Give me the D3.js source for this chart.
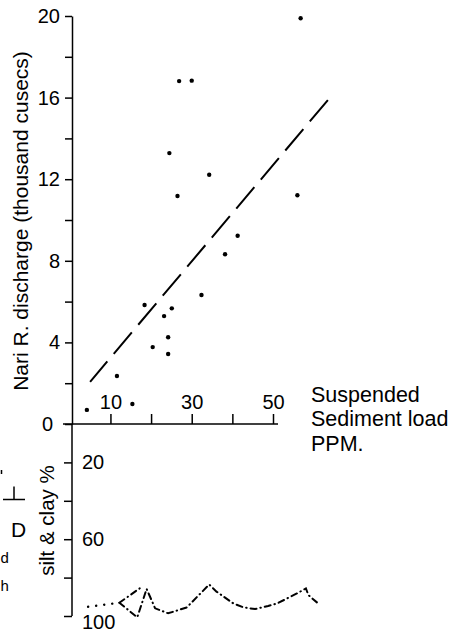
<!DOCTYPE html>
<html>
<head>
<meta charset="utf-8">
<script src="https://cdn.jsdelivr.net/npm/d3@7"></script>
<style>
body { margin: 0; background: #fff; }
svg { display: block; font-family: "Liberation Sans", Arial, sans-serif; }
</style>
</head>
<body>
<script>
// scatter: suspended sediment load (PPM) vs Nari R. discharge (thousand cusecs)
var sediment  = [4.2, 11.6, 15.4, 18.4, 20.4, 23.2, 24.2, 24.2, 25.1, 24.5, 26.5, 26.9, 30.0, 32.4, 34.3, 38.2, 41.3, 56.0, 56.8];
var discharge = [0.69, 2.35, 0.98, 5.83, 3.77, 5.29, 4.25, 3.43, 5.67, 13.28, 11.18, 16.81, 16.83, 6.32, 12.22, 8.32, 9.23, 11.21, 19.89];

// fitted line, drawn from the upper end
var trendSediment  = [63.5, 5.0];
var trendDischarge = [15.88, 2.07];

// silt & clay % curve under the axis
var siltDotSed = [4.5, 12.2];
var siltDotPct = [95.2, 93.1];
var siltSed = [12.2, 16.6, 18.9, 21.0, 24.2, 28.8, 34.3, 36.1, 40.2, 42.7, 45.6, 48.8, 51.1, 56.2, 58.1, 58.7, 60.8];
var siltPct = [93.1, 100.7, 85.9, 96.0, 98.6, 95.5, 83.6, 87.3, 93.4, 95.5, 96.4, 94.8, 93.4, 87.9, 85.6, 89.1, 92.9];
var siltBranchSed = [12.2, 18.0];
var siltBranchPct = [93.1, 84.4];

var dischargeTicks  = [0, 2, 4, 6, 8, 10, 12, 14, 16, 18, 20];
var dischargeLabels = [0, 4, 8, 12, 16, 20];
var sedimentTicks  = [10, 20, 30, 40, 50];
var sedimentLabels = [10, 30, 50];
var siltTicks  = [20, 40, 60, 80, 100];
var siltLabels = [20, 60, 100];

var width = 460, height = 632;
var axisX = 72;

var svg = d3.select("body")
    .append("svg")
    .attr("width", width)
    .attr("height", height);

svg.append("rect")
    .attr("width", width)
    .attr("height", height)
    .attr("fill", "#fff");

var x = d3.scaleLinear().domain([0, 50]).range([69.8, 273]);
var y = d3.scaleLinear().domain([0, 20]).range([424, 16]);
var ySilt = d3.scaleLinear().domain([0, 100]).range([424, 616]);

// upper y axis
var yAxis = svg.append("g")
    .attr("transform", "translate(" + axisX + ",0)")
    .call(d3.axisLeft(y)
        .tickValues(dischargeTicks)
        .tickSize(7)
        .tickSizeOuter(0)
        .tickPadding(5)
        .tickFormat(function (d) { return dischargeLabels.indexOf(d) >= 0 ? d : ""; }));
yAxis.selectAll("text")
    .filter(function (d) { return d === 0; })
    .attr("x", -19);

// lower y axis (silt & clay)
var siltAxis = svg.append("g")
    .attr("transform", "translate(" + axisX + ",0)")
    .call(d3.axisLeft(ySilt)
        .tickValues(siltTicks)
        .tickSize(8)
        .tickSizeOuter(0)
        .tickFormat(""));
siltAxis.select(".domain")
    .attr("d", "M0," + ySilt(0) + "V" + ySilt(100));

svg.append("g")
    .selectAll("text")
    .data(siltLabels)
    .enter().append("text")
    .attr("x", axisX + 10)
    .attr("y", function (d) { return ySilt(d) + (d === 100 ? 6 : 0); })
    .attr("dy", "0.35em")
    .attr("font-size", 20)
    .text(function (d) { return d; });

// x axis, ticks pointing up
var xAxis = svg.append("g")
    .attr("transform", "translate(0," + y(0) + ")")
    .call(d3.axisTop(x)
        .tickValues(sedimentTicks)
        .tickSize(10)
        .tickSizeOuter(0)
        .tickPadding(5)
        .tickFormat(function (d) { return sedimentLabels.indexOf(d) >= 0 ? d : ""; }));
xAxis.select(".domain")
    .attr("d", "M" + (axisX - 9) + ",0H" + (x(50) + 5));

svg.selectAll(".tick text")
    .attr("font-size", 20)
    .attr("font-family", "Liberation Sans, Arial, sans-serif")
    .attr("fill", "#000");
svg.selectAll(".domain, .tick line")
    .attr("stroke", "#000")
    .attr("stroke-width", 1.5);

// trend line
var line = d3.line()
    .x(function (d) { return x(d[0]); })
    .y(function (d) { return y(d[1]); });

svg.append("path")
    .datum(d3.zip(trendSediment, trendDischarge))
    .attr("d", line)
    .attr("fill", "none")
    .attr("stroke", "#000")
    .attr("stroke-width", 2)
    .attr("stroke-dasharray", "28,10");

// points
svg.append("g")
    .selectAll("circle")
    .data(d3.zip(sediment, discharge))
    .enter().append("circle")
    .attr("cx", function (d) { return x(d[0]); })
    .attr("cy", function (d) { return y(d[1]); })
    .attr("r", 2.2)
    .attr("fill", "#000");

// silt & clay curve
var siltLine = d3.line()
    .x(function (d) { return x(d[0]); })
    .y(function (d) { return ySilt(d[1]); });

svg.append("path")
    .datum(d3.zip(siltDotSed, siltDotPct))
    .attr("d", siltLine)
    .attr("fill", "none")
    .attr("stroke", "#000")
    .attr("stroke-width", 2.4)
    .attr("stroke-linecap", "round")
    .attr("stroke-dasharray", "0.1,8");

svg.append("path")
    .datum(d3.zip(siltSed, siltPct))
    .attr("d", siltLine)
    .attr("fill", "none")
    .attr("stroke", "#000")
    .attr("stroke-width", 2)
    .attr("stroke-linecap", "round")
    .attr("stroke-dasharray", "6,4,0.5,4");

svg.append("path")
    .datum(d3.zip(siltBranchSed, siltBranchPct))
    .attr("d", siltLine)
    .attr("fill", "none")
    .attr("stroke", "#000")
    .attr("stroke-width", 2)
    .attr("stroke-linecap", "round")
    .attr("stroke-dasharray", "6,4,0.5,4");

// titles
svg.append("text")
    .attr("transform", "translate(28,221) rotate(-90)")
    .attr("text-anchor", "middle")
    .attr("font-size", 21)
    .text("Nari R. discharge (thousand cusecs)");

svg.append("text")
    .attr("transform", "translate(53.5,520.5) rotate(-90)")
    .attr("text-anchor", "middle")
    .attr("font-size", 20.5)
    .text("silt & clay %");

var xTitle = svg.append("text")
    .attr("font-size", 21.5)
    .attr("x", 311)
    .attr("y", 402);
["Suspended", "Sediment load", "PPM."].forEach(function (t, i) {
    xTitle.append("tspan")
        .attr("x", 311)
        .attr("dy", i === 0 ? 0 : 24.3)
        .text(t);
});

// pieces of the neighbouring figure at the left edge
var edge = svg.append("g");
edge.append("text").attr("x", 11).attr("y", 537).attr("font-size", 21).attr("fill", "#000").text("D");
edge.append("text").attr("x", 0.5).attr("y", 563).attr("font-size", 15).attr("fill", "#000").text("d");
edge.append("text").attr("x", 0.5).attr("y", 591).attr("font-size", 15).attr("fill", "#000").text("h");
edge.append("path")
    .attr("d", "M3,499.5H25M14,486.5V499.5M1.5,470V474")
    .attr("stroke", "#000")
    .attr("stroke-width", 1.5)
    .attr("fill", "none");
</script>
</body>
</html>
